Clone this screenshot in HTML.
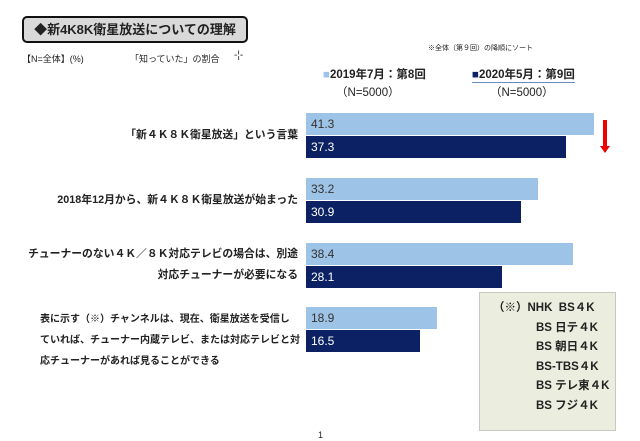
<!DOCTYPE html>
<html><head><meta charset="utf-8"><style>
body{margin:0;width:640px;height:441px;background:#fff;position:relative;overflow:hidden;font-family:"Liberation Sans","Noto Sans CJK JP",sans-serif;color:#222}
.a{position:absolute;white-space:nowrap}
.t{left:22px;top:16px;width:222px;height:23px;border:2px solid #111;border-radius:5px;background:#d9d9d9;font-weight:bold;font-size:13px;line-height:23px;text-align:center}
.bar{position:absolute;left:306px;height:22px;font-size:12px;line-height:22px;padding-left:5px;box-sizing:border-box}
.l{background:#9dc3e6;color:#333}
.d{background:#0b2163;color:#fff}
.lab{position:absolute;right:342px;font-size:10.8px;font-weight:bold;text-align:right;line-height:21px}
.box{left:479px;top:292px;width:135px;height:137px;background:#ebeedf;border:1px solid #c8c8c0;font-weight:bold;font-size:11.5px;line-height:19.5px}
</style></head><body>
<div class="a t">◆新4K8K衛星放送についての理解</div>
<div class="a" style="left:22px;top:52px;font-size:9px">【N=全体】(%)</div>
<div class="a" style="left:130px;top:52px;font-size:9px">「知っていた」の割合</div>
<div class="a" style="left:234px;top:50px;font-size:10px">-¦-</div>
<div class="a" style="left:428px;top:43px;font-size:7px">※全体（第９回）の降順にソート</div>
<div class="a" style="left:323px;top:66px;font-size:11.5px;font-weight:bold"><span style="color:#9dc3e6">■</span>2019年7月：第8回</div>
<div class="a" style="left:336px;top:84px;font-size:11.5px">（N=5000）</div>
<div class="a" style="left:472px;top:66px;font-size:11.5px;font-weight:bold;border-bottom:1px solid #6b8bc0"><span style="color:#0b2163">■</span>2020年5月：第9回</div>
<div class="a" style="left:490px;top:84px;font-size:11.5px">（N=5000）</div>

<div class="bar l" style="top:113px;width:288px">41.3</div>
<div class="bar d" style="top:136px;width:260px">37.3</div>
<div class="bar l" style="top:178px;width:232px">33.2</div>
<div class="bar d" style="top:201px;width:215px">30.9</div>
<div class="bar l" style="top:243px;width:267px">38.4</div>
<div class="bar d" style="top:266px;width:196px">28.1</div>
<div class="bar l" style="top:307px;width:131px">18.9</div>
<div class="bar d" style="top:330px;width:114px">16.5</div>

<div class="lab" style="top:125px">「新４Ｋ８Ｋ衛星放送」という言葉</div>
<div class="lab" style="top:190px">2018年12月から、新４Ｋ８Ｋ衛星放送が始まった</div>
<div class="lab" style="top:244px">チューナーのない４Ｋ／８Ｋ対応テレビの場合は、別途<br>対応チューナーが必要になる</div>
<div class="lab" style="top:309px;text-align:left;right:auto;left:40px;font-size:10px">表に示す（※）チャンネルは、現在、衛星放送を受信し<br>ていれば、チューナー内蔵テレビ、または対応テレビと対<br>応チューナーがあれば見ることができる</div>

<svg class="a" style="left:598px;top:118px" width="14" height="38"><rect x="5" y="2" width="4" height="28" fill="#e00"/><polygon points="2,28 12,28 7,35" fill="#e00"/></svg>

<div class="a box"><div style="padding:6px 0 0 13px">（※）NHK&nbsp; BS４K</div><div style="padding-left:56px">BS 日テ４K<br>BS 朝日４K<br>BS-TBS４K<br>BS テレ東４K<br>BS フジ４K</div></div>
<div class="a" style="left:318px;top:430px;font-size:9px">1</div>
</body></html>
